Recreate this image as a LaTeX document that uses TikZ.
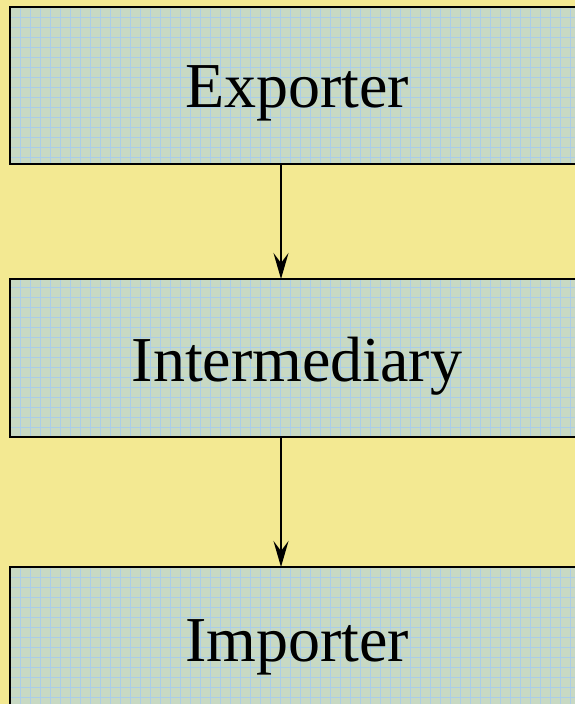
\documentclass[tikz,border=0pt]{standalone}
\usepackage{fontspec}
\setmainfont{Liberation Serif}
\usetikzlibrary{arrows.meta}
\definecolor{bg}{HTML}{F3E992}
\definecolor{boxfill}{HTML}{C8D9C3}
\definecolor{gridc}{HTML}{AACDE8}
\tikzset{
  stagebox/.style={draw=black, line width=2.8pt, fill=boxfill, minimum width=580pt, anchor=north west, inner sep=0pt, outer sep=0pt},
  stagelabel/.style={font=\fontsize{64}{72}\selectfont, anchor=base, inner sep=0pt, text=black},
  gridline/.style={gridc, line width=0.7pt},
  flow/.style={draw=black, line width=2.7pt, -{Stealth[length=26pt,width=15pt,inset=10pt]}}
}
\begin{document}
\begin{tikzpicture}[x=1pt,y=-1pt]
\fill[bg] (0,0) rectangle (575,704);
\useasboundingbox (0,0) rectangle (575,704);
% boxes
\node[stagebox, minimum height=157pt] (exp) at (10,7) {};
\node[stagebox, minimum height=158pt] (int) at (10,279) {};
\node[stagebox, minimum height=160pt] (imp) at (10,567) {};
% grids
\foreach \n in {exp,int,imp}{
  \begin{scope}
    \clip (\n.north west) rectangle (\n.south east);
    \foreach \gx in {20,30,...,590} \draw[gridline] (\gx,0) -- (\gx,704);
    \foreach \gy in {7,17,...,707} \draw[gridline] (0,\gy) -- (590,\gy);
  \end{scope}
  \draw[black, line width=2.8pt] (\n.north west) rectangle (\n.south east);
}
% labels
\node[stagelabel] (expt) at (297,107) {Exporter};
\node[stagelabel] (intt) at (297,381) {Intermediary};
\node[stagelabel] (impt) at (297,661) {Importer};
% arrows
\draw[flow] (exp.south -| 281,0) -- (int.north -| 281,0);
\draw[flow] (int.south -| 281,0) -- (imp.north -| 281,0);
\end{tikzpicture}
\end{document}
